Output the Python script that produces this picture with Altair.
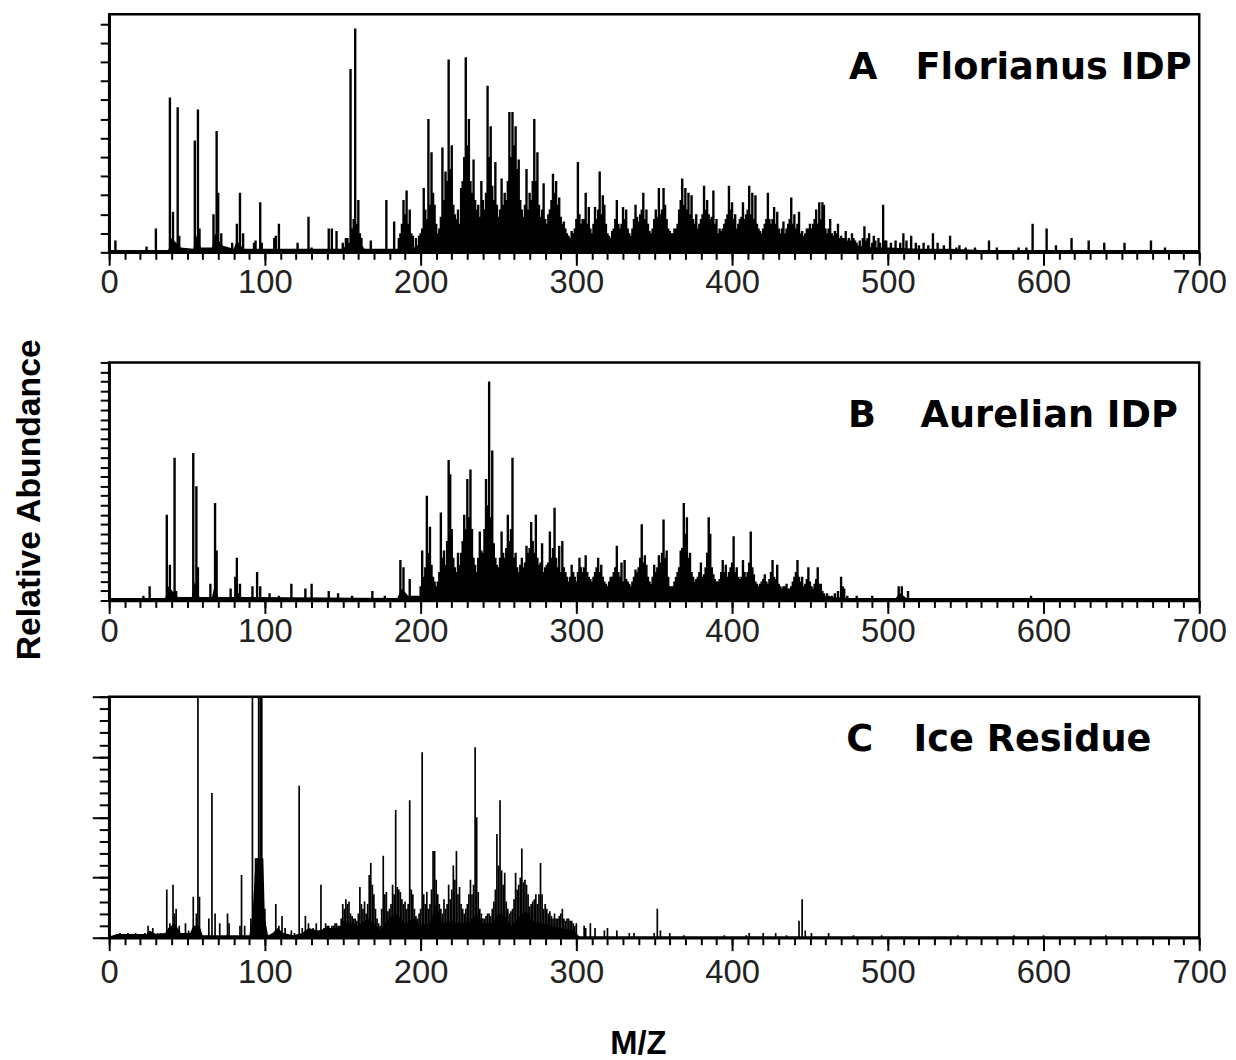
import altair as alt
import pandas as pd

# ---------------- data (m/z, relative abundance %) ----------------
# main peaks
A_MZ = [4, 24, 30, 39, 41, 44, 45, 55, 57, 58, 67, 69, 70, 72, 79, 82, 84, 86, 93, 94, 97, 98,
        106, 107, 109, 121, 128, 130, 141, 143, 146, 152, 155, 158, 160, 162, 168, 178, 183, 189,
        191, 193, 195, 202, 203, 205, 207, 209, 214, 216, 218, 220, 222, 226, 229, 231, 234, 236,
        239, 243, 245, 248, 252, 257, 259, 261, 263, 268, 270, 273, 275, 279, 285, 287, 289, 292,
        297, 301, 304, 306, 308, 312, 315, 317, 318, 323, 326, 330, 332, 338, 340, 343, 345, 347,
        351, 353, 356, 357, 360, 364, 368, 370, 372, 374, 377, 382, 384, 388, 390, 398, 400, 402,
        407, 411, 413, 415, 418, 423, 427, 429, 433, 438, 440, 443, 445, 450, 454, 456, 458, 459,
        463, 468, 473, 477, 485, 488, 491, 497, 499, 510, 515, 523, 529, 540, 546, 565, 584, 589,
        593, 602, 608, 618, 629, 639, 652, 669, 678]
A_INT = [5, 2.5, 10, 65, 17, 61, 7, 47, 60, 10, 16, 51, 25, 8, 4, 12, 25, 8, 4, 5, 21, 4,
         6, 7, 12, 4, 15, 2, 10, 10, 9, 6, 77, 94, 22, 6, 5, 22, 13, 22,
         26, 18, 7, 27, 18, 56, 42, 20, 44, 34, 81, 45, 16, 27, 82, 56, 39, 18,
         30, 70, 53, 38, 31, 59, 59, 53, 39, 35, 25, 56, 42, 29, 33, 30, 23, 13,
         9, 38, 14, 25, 19, 19, 34, 24, 20, 9, 22, 19, 18, 20, 13, 25, 18, 9,
         18, 27, 27, 20, 9, 10, 31, 27, 25, 24, 16, 28, 22, 26, 14, 28, 21, 16,
         21, 28, 25, 24, 9, 25, 19, 17, 13, 23, 16, 17, 9, 12, 18, 21, 21, 20,
         14, 12, 9, 8, 11, 8, 7, 20, 5, 8, 7, 4, 8, 7, 3, 5, 2, 2,
         12, 10, 3, 6, 5, 4, 4, 5, 2]
# dense lower comb of lines under the main peaks
A2_MZ = [150, 153, 156, 157, 159, 161, 186, 187, 188, 190, 192, 194, 197, 199,
         200, 201, 204, 206, 208, 210, 211, 212, 213, 215, 217, 219, 221, 223, 224, 225, 227, 228,
         230, 232, 233, 235, 237, 238, 240, 241, 242, 244, 246, 247, 249, 250, 251, 253, 254, 255,
         256, 258, 260, 262, 264, 265, 266, 267, 269, 271, 272, 274, 276, 277, 278, 280, 281, 282,
         283, 284, 286, 288, 290, 291, 293, 294, 295, 296, 298, 299, 300, 302, 303, 305, 307, 309,
         310, 311, 313, 314, 316, 319, 320, 321, 322, 324, 325, 327, 328, 329, 331, 333, 334, 335,
         336, 337, 339, 341, 342, 344, 346, 348, 349, 350, 352, 354, 355, 358, 359, 361, 362, 363,
         365, 366, 367, 369, 371, 373, 375, 376, 378, 379, 380, 381, 383, 385, 386, 387, 389, 391,
         392, 393, 394, 395, 396, 397, 399, 401, 403, 404, 405, 406, 408, 409, 410, 412, 414, 416,
         417, 419, 420, 421, 422, 424, 425, 426, 428, 430, 431, 432, 434, 435, 436, 437, 439, 441,
         442, 444, 446, 447, 448, 449, 451, 452, 453, 455, 457, 460, 461, 462, 464, 465, 466, 467,
         469, 470, 471, 472, 474, 475, 476, 478, 479, 480, 482, 484, 486, 487, 490, 492, 494, 495,
         498, 502, 505, 508, 512, 518, 520, 526, 532, 536, 544, 550, 556, 570]
A2_INT = [4, 6, 10, 14, 12, 8, 6, 8, 12, 16, 12, 8, 6, 7,
          8, 10, 14, 20, 25, 12, 8, 10, 15, 22, 30, 35, 20, 14, 18, 12, 30, 40,
          45, 30, 25, 22, 20, 15, 22, 18, 25, 40, 28, 22, 20, 15, 18, 20, 25, 22,
          30, 40, 45, 35, 22, 18, 15, 20, 18, 22, 30, 30, 20, 15, 18, 14, 12, 16,
          18, 22, 25, 20, 15, 12, 10, 8, 7, 6, 8, 10, 14, 16, 12, 14, 12, 10,
          8, 12, 14, 18, 16, 12, 8, 7, 6, 10, 14, 12, 10, 12, 14, 10, 8, 7,
          10, 14, 15, 16, 18, 14, 12, 8, 10, 14, 15, 16, 18, 14, 10, 8, 8, 10,
          12, 18, 22, 20, 18, 16, 14, 12, 10, 12, 14, 16, 18, 16, 14, 15, 12, 8,
          10, 9, 10, 12, 14, 16, 18, 14, 10, 12, 14, 15, 14, 16, 18, 16, 14, 12,
          10, 8, 10, 12, 14, 14, 12, 14, 12, 10, 8, 10, 8, 10, 12, 14, 12, 10,
          12, 8, 7, 8, 10, 10, 10, 12, 14, 12, 14, 10, 8, 10, 8, 7, 9, 8,
          6, 7, 6, 6, 5, 6, 5, 6, 5, 4, 5, 6, 5, 6, 4, 5, 6, 4,
          5, 4, 5, 4, 5, 4, 3, 3, 4, 3, 2, 2, 2, 2]
A_ENV_MZ = [0, 38, 40, 46, 54, 56, 59, 66, 68, 72, 80, 82, 86, 150, 154, 160, 164, 186, 190, 196,
            202, 206, 212, 216, 222, 228, 236, 242, 246, 252, 258, 264, 270, 276, 282, 286, 292,
            298, 304, 312, 318, 326, 334, 344, 352, 360, 368, 376, 384, 392, 398, 406, 412, 420,
            428, 436, 444, 452, 460, 466, 480, 490, 500, 520, 540, 560, 700]
A_ENV_INT = [1, 1, 6, 2, 1.5, 7, 2, 2, 8, 3, 1.5, 5, 1.5, 1.5, 4, 5, 1.5, 1.5, 6, 2,
             5, 9, 4, 12, 7, 15, 9, 11, 7, 8, 15, 10, 8, 10, 7, 10, 4,
             4, 7, 6, 7, 5, 6, 5, 7, 4, 7, 6, 5, 4, 6, 5, 6, 4,
             5, 4, 4, 4, 5, 3, 3, 2, 2, 1.5, 1.5, 1, 1]

B_MZ = [22, 26, 37, 39, 42, 43, 54, 56, 57, 65, 68, 69, 78, 81, 82, 84, 92, 95, 97, 103, 109, 117,
        126, 130, 141, 147, 156, 169, 177, 187, 189, 193, 201, 204, 206, 213, 215, 218, 219, 224,
        228, 230, 232, 234, 238, 239, 242, 244, 246, 247, 252, 256, 259, 261, 265, 268, 271, 274,
        278, 281, 283, 286, 289, 291, 297, 302, 306, 307, 314, 316, 322, 326, 329, 331, 338, 342,
        344, 345, 350, 353, 356, 358, 360, 367, 369, 371, 373, 380, 382, 385, 386, 388, 394, 396,
        401, 403, 407, 412, 414, 421, 426, 429, 435, 442, 445, 449, 450, 455, 457, 460, 470, 472,
        480, 490, 507, 509, 513, 544, 592]
B_INT = [2, 6, 36, 15, 60, 4, 62, 48, 14, 7, 41, 21, 5, 10, 18, 7, 6, 12, 6, 3, 2, 7,
         5, 7, 4, 3, 2, 4, 2, 17, 14, 9, 21, 44, 31, 37, 21, 59, 53, 20,
         36, 51, 55, 18, 29, 21, 51, 92, 63, 24, 29, 36, 60, 20, 18, 23, 33, 36,
         24, 15, 29, 39, 23, 25, 15, 18, 19, 12, 18, 15, 10, 23, 16, 17, 13, 32,
         19, 15, 15, 19, 34, 21, 6, 21, 41, 35, 20, 16, 11, 35, 28, 11, 17, 15,
         27, 14, 17, 29, 11, 11, 17, 15, 7, 17, 10, 14, 8, 14, 7, 2, 10, 5,
         2, 2, 6, 6, 4, 1, 2]
B2_MZ = [200, 202, 203, 205, 207, 208, 209, 210, 211, 212, 214, 216, 217, 220, 221, 222, 223, 225,
         226, 227, 229, 231, 233, 235, 236, 237, 240, 241, 243, 245, 248, 249, 250, 251, 253, 254,
         255, 257, 258, 260, 262, 263, 264, 266, 267, 269, 270, 272, 273, 275, 276, 277, 279, 280,
         282, 284, 285, 287, 288, 290, 292, 293, 294, 295, 296, 298, 299, 300, 301, 303, 304, 305,
         308, 309, 310, 311, 312, 313, 315, 317, 318, 319, 320, 321, 323, 324, 325, 327, 328, 330,
         332, 333, 334, 335, 336, 337, 339, 340, 341, 343, 346, 347, 348, 349, 351, 352, 354, 355,
         357, 359, 361, 362, 363, 364, 365, 366, 368, 370, 372, 374, 375, 376, 377, 378, 379, 381,
         383, 384, 387, 389, 390, 391, 392, 393, 395, 397, 398, 399, 400, 402, 404, 405, 406, 408,
         409, 410, 411, 413, 415, 416, 417, 418, 419, 420, 422, 423, 424, 425, 427, 428, 430, 431,
         432, 433, 434, 436, 437, 438, 439, 440, 441, 443, 444, 446, 447, 448, 451, 452, 453, 454,
         456, 458, 459, 461, 462, 464, 466, 468, 471, 474]
B2_INT = [6, 10, 14, 20, 15, 10, 8, 6, 8, 12, 18, 15, 25, 30, 18, 14, 12, 15,
          20, 25, 30, 35, 30, 15, 12, 18, 20, 30, 40, 35, 18, 15, 14, 18, 20, 18,
          22, 25, 30, 18, 14, 12, 15, 14, 16, 20, 22, 25, 20, 18, 15, 16, 12, 14,
          16, 18, 22, 18, 14, 12, 14, 12, 10, 8, 10, 12, 10, 8, 12, 14, 12, 14,
          10, 9, 8, 10, 12, 14, 12, 10, 8, 7, 6, 8, 10, 12, 14, 12, 10, 8,
          9, 8, 7, 6, 8, 10, 12, 14, 18, 16, 10, 8, 7, 10, 12, 14, 16, 20,
          18, 10, 6, 6, 8, 10, 12, 14, 22, 28, 18, 12, 10, 8, 9, 10, 12, 10,
          14, 20, 14, 9, 8, 8, 9, 12, 12, 10, 12, 14, 16, 12, 10, 9, 10, 12,
          10, 12, 16, 14, 8, 7, 6, 7, 8, 9, 8, 7, 9, 12, 10, 9, 7, 6,
          5, 6, 6, 5, 5, 6, 8, 10, 12, 10, 8, 6, 7, 9, 6, 5, 7, 9,
          7, 4, 3, 3, 2, 2, 3, 4, 6, 2]
B_ENV_MZ = [0, 36, 38, 44, 53, 55, 58, 66, 68, 70, 80, 82, 85, 185, 188, 192, 200, 204, 208, 214,
            218, 222, 228, 232, 238, 244, 248, 254, 258, 264, 272, 278, 286, 292, 300, 310, 320,
            330, 340, 344, 350, 356, 364, 369, 376, 385, 392, 400, 410, 414, 420, 430, 440, 450,
            458, 466, 475, 505, 508, 512, 700]
B_ENV_INT = [1, 1, 6, 1.5, 1.5, 8, 1.5, 1.5, 7, 1.5, 1.5, 4, 1.5, 1, 5, 2, 2, 8, 4, 5,
             11, 5, 8, 12, 6, 15, 8, 6, 9, 6, 8, 5, 8, 5, 4, 5, 4,
             4, 4, 6, 4, 6, 3, 7, 4, 6, 3, 5, 4, 5, 3, 3, 3, 3,
             2, 1.5, 1, 1, 3, 1, 1]

C_MZ = [7, 12, 17, 23, 25, 28, 31, 33, 37, 39, 41, 42, 43, 45, 49, 51, 54, 56, 57, 58, 64, 66, 68,
        71, 76, 77, 84, 85, 87, 91, 92, 94, 95, 96, 97, 98, 99, 100, 107, 109, 111, 113, 117, 119,
        122, 124, 126, 128, 131, 133, 136, 139, 141, 143, 145, 147, 150, 152, 154, 156, 158, 161,
        164, 167, 168, 170, 174, 176, 178, 179, 182, 184, 185, 187, 190, 193, 195, 197, 201, 204,
        208, 209, 210, 215, 218, 221, 223, 225, 227, 231, 232, 235, 236, 237, 240, 243, 245, 247,
        249, 251, 252, 254, 255, 258, 261, 263, 265, 266, 268, 270, 272, 274, 277, 278, 281, 283,
        287, 289, 291, 295, 297, 305, 306, 309, 312, 318, 320, 326, 334, 337, 350, 352, 354, 360,
        369, 395, 409, 411, 420, 428, 435, 443, 445, 447, 451, 462, 478, 496, 545, 581, 600, 640]
C_INT = [2, 2, 2, 2, 5, 4, 2, 2, 20, 6, 22, 10, 12, 5, 6, 3, 17, 10, 130, 17, 8, 60, 10,
         6, 10, 6, 5, 26, 5, 8, 130, 33, 33, 130, 130, 130, 12, 12, 14, 5, 9, 4, 3, 2,
         63, 4, 9, 6, 4, 6, 22, 6, 5, 5, 6, 5, 14, 16, 15, 9, 8, 21,
         15, 26, 31, 18, 5, 34, 19, 11, 22, 53, 21, 19, 15, 57, 18, 9, 77, 19,
         36, 36, 24, 16, 22, 30, 36, 21, 12, 18, 24, 79, 50, 19, 8, 10, 9, 15,
         43, 57, 28, 27, 15, 11, 27, 22, 37, 23, 22, 13, 15, 18, 31, 18, 12, 11,
         8, 9, 12, 8, 7, 5, 4, 6, 4, 3, 4, 3, 2, 2, 2, 12, 3, 2,
         1, 1, 1, 2, 2, 2, 1, 7, 16, 3, 2, 2, 1, 1, 1, 1, 1, 1]
C2_MZ = [138, 140, 142, 144, 146, 148, 149, 151, 153, 155, 157, 159, 160, 162, 163, 165, 166, 169,
         171, 172, 173, 175, 177, 180, 181, 183, 186, 188, 189, 191, 192, 194, 196, 198, 199, 200,
         202, 203, 205, 206, 207, 211, 212, 213, 214, 216, 217, 219, 220, 222, 224, 226, 228, 229,
         230, 233, 234, 238, 239, 241, 242, 244, 246, 248, 250, 253, 256, 257, 259, 260, 262, 264,
         267, 269, 271, 273, 275, 276, 279, 280, 282, 284, 285, 286, 288, 290, 292, 293, 294, 296,
         298, 299, 300]
C2_INT = [4, 5, 4, 5, 6, 5, 8, 12, 14, 10, 8, 7, 10, 14, 12, 10, 14, 22,
          12, 8, 6, 12, 18, 12, 14, 18, 20, 16, 14, 12, 14, 20, 12, 8, 10, 12,
          18, 14, 12, 14, 20, 18, 14, 12, 10, 12, 14, 16, 20, 24, 18, 14, 10, 12,
          14, 18, 22, 12, 10, 8, 9, 10, 12, 20, 30, 22, 12, 10, 12, 16, 20, 25,
          24, 18, 14, 16, 14, 18, 12, 14, 10, 9, 8, 10, 8, 10, 8, 7, 8, 7,
          6, 5, 6]
C_ENV_MZ = [0, 5, 24, 26, 30, 36, 38, 42, 46, 52, 54, 58, 60, 90, 92, 94, 99, 100, 102, 105, 108,
            112, 118, 124, 128, 134, 140, 148, 150, 156, 160, 166, 170, 174, 178, 184, 190, 196,
            200, 206, 210, 214, 220, 226, 232, 236, 240, 246, 250, 254, 258, 262, 268, 272, 278,
            284, 290, 298, 302, 700]
C_ENV_INT = [0.5, 1.5, 1.5, 3, 1.5, 2, 4, 6, 2, 2, 5, 5, 1, 1, 8, 33, 33, 8, 1, 2, 4,
             2, 1, 2, 4, 3, 4, 4, 7, 6, 5, 8, 6, 3, 7, 10, 6, 8,
             5, 6, 14, 6, 7, 6, 7, 10, 6, 6, 10, 9, 5, 8, 11, 7, 6,
             5, 4, 3, 0.5, 0.5]

X_TICKS_MINOR = list(range(0, 701, 10))
X_TICKS_MAJOR = list(range(0, 701, 100))

PLOT_W = 1099
LABEL_FONT = "Liberation Sans"
PANEL_FONT = "DejaVu Sans"


def make_panel(mz, inten, mz2, inten2, env_mz, env_int, height, letter, name, text_y, letter_x,
               name_x, y_minor_vals, y_minor_size, y_major_vals=None, y_major_size=None,
               y_title=None, x_title=None, label_pad=1, spacers=(), stroke=2.0):
    peaks = pd.DataFrame({"mz": list(mz) + list(mz2), "v": list(inten) + list(inten2)})
    env = pd.DataFrame({"mz": env_mz, "v": env_int})
    xs = alt.Scale(domain=[0, 700], nice=False, zero=False)
    ys = alt.Scale(domain=[0, 100], nice=False, zero=True)

    minor_x = alt.Axis(values=X_TICKS_MINOR, labels=False, ticks=True, tickSize=7, tickWidth=2,
                       tickColor="black", domain=True, domainColor="black", domainWidth=2.5,
                       grid=False, title=None, orient="bottom")
    major_kw = dict(values=X_TICKS_MAJOR, labels=True, labelFont=LABEL_FONT, labelFontSize=33,
                    labelColor="#222", labelPadding=label_pad, labelFlush=False,
                    labelOverlap=False, labelBound=False, tickSize=13, tickWidth=2,
                    tickColor="black", domain=False, grid=False, orient="bottom")
    if x_title:
        major_kw.update(title=x_title, titleFont=LABEL_FONT, titleFontSize=33,
                        titleFontWeight="bold", titleColor="black", titleX=533, titleY=117,
                        titleAlign="center", titleBaseline="alphabetic")
    else:
        major_kw.update(title=None)
    major_x = alt.Axis(**major_kw)

    ymin_kw = dict(values=y_minor_vals, labels=False, ticks=True, tickSize=y_minor_size,
                   tickWidth=2, tickColor="black", domain=True, domainColor="black",
                   domainWidth=2.5, grid=False, orient="left")
    if y_title:
        ymin_kw.update(title=y_title, titleFont=LABEL_FONT, titleFontSize=34,
                       titleFontWeight="bold", titleColor="black", titleAngle=270,
                       titleX=-80, titleY=138, titleAlign="center", titleBaseline="middle")
    else:
        ymin_kw.update(title=None)
    y_minor_axis = alt.Axis(**ymin_kw)
    if y_major_vals is not None:
        y_major_axis = alt.Axis(values=y_major_vals, labels=False, ticks=True,
                                tickSize=y_major_size, tickWidth=2, tickColor="black",
                                domain=False, grid=False, orient="left", title=None)
    else:
        y_major_axis = None

    area = alt.Chart(env).mark_area(color="black", clip=True, interpolate="linear").encode(
        x=alt.X("mz:Q", scale=xs, axis=major_x),
        y=alt.Y("v:Q", scale=ys, axis=y_major_axis),
    )
    rules = alt.Chart(peaks).mark_rule(color="black", strokeWidth=stroke, clip=True).encode(
        x=alt.X("mz:Q", scale=xs, axis=minor_x),
        y=alt.Y("v:Q", scale=ys, axis=y_minor_axis),
        y2=alt.datum(0),
    )
    txt = pd.DataFrame({"t": [letter], "n": [name]})
    letter_mark = alt.Chart(txt).mark_text(font=PANEL_FONT, fontSize=37, fontWeight="bold",
                                           align="left", baseline="alphabetic",
                                           color="black").encode(
        x=alt.value(letter_x), y=alt.value(text_y), text="t:N")
    name_mark = alt.Chart(txt).mark_text(font=PANEL_FONT, fontSize=37, fontWeight="bold",
                                         align="left", baseline="alphabetic",
                                         color="black").encode(
        x=alt.value(name_x), y=alt.value(text_y), text="n:N")
    layers = [area, rules, letter_mark, name_mark]
    for sy in spacers:
        layers.append(
            alt.Chart(pd.DataFrame({"s": [0]})).mark_point(opacity=0, size=1).encode(
                x=alt.value(-100), y=alt.value(sy)))
    return alt.layer(*layers).resolve_axis(x="independent", y="independent").properties(
        width=PLOT_W, height=height)


panel_a = make_panel(A_MZ, A_INT, A2_MZ, A2_INT, A_ENV_MZ, A_ENV_INT, 240, "A", "Florianus IDP",
                     65, 746, 813, list(range(0, 97, 8)), 9, spacers=(307,), stroke=2.4)
panel_b = make_panel(B_MZ, B_INT, B2_MZ, B2_INT, B_ENV_MZ, B_ENV_INT, 240, "B", "Aurelian IDP",
                     65, 745, 818, list(range(0, 101, 4)), 9, y_title="Relative Abundance",
                     label_pad=2, spacers=(-40, 313), stroke=2.4)
panel_c = make_panel(C_MZ, C_INT, C2_MZ, C2_INT, C_ENV_MZ, C_ENV_INT, 243, "C", "Ice Residue",
                     55, 743, 811, list(range(0, 101, 5)), 10,
                     y_major_vals=[0, 25, 50, 75, 100], y_major_size=17, x_title="M/Z",
                     label_pad=6, spacers=(-20,), stroke=1.7)

chart = alt.vconcat(panel_a, panel_b, panel_c, spacing=0).properties(
    padding={"left": 0, "top": 0, "right": 0, "bottom": 0}, background="white"
).configure_view(stroke="black", strokeWidth=2.5)

chart.save("out.html", embed_options={"renderer": "svg", "actions": False})
